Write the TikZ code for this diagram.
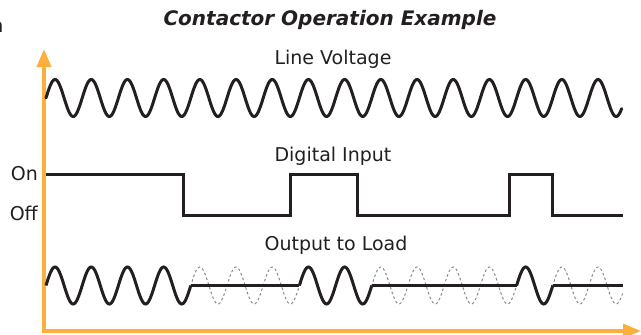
\documentclass[tikz,border=0pt]{standalone}
\usepackage{fontspec}
\setmainfont{DejaVu Sans}
\usetikzlibrary{arrows.meta}
\definecolor{axisorange}{HTML}{FBB03B}
\definecolor{ink}{HTML}{231F20}
\definecolor{ghost}{HTML}{8A8A8A}
\tikzset{
  axisline/.style={draw=axisorange, line width=3.5pt, -{Triangle[length=18pt,width=14pt]}},
  signal/.style={draw=ink, line width=3pt, line join=miter},
  ghostwave/.style={draw=ghost, line width=1pt, dash pattern=on 2.5pt off 2.5pt},
  label/.style={text=ink, font=\fontsize{19}{22}\selectfont, inner sep=0pt},
  title/.style={text=ink, font=\fontsize{20}{24}\selectfont\bfseries\itshape, inner sep=0pt},
}
\def\per{36.2}
\begin{document}
\begin{tikzpicture}[x=1pt, y=-1pt]
\useasboundingbox (0,0) rectangle (641,335);
% cut-off fragment at the top left
\node[label, anchor=east] (frag) at (3.5,27) {n};
% title and labels
\node[title] (ttl) at (330,20) {Contactor Operation Example};
\node[label] (lv) at (333,59) {Line Voltage};
\node[label] (di) at (333,156) {Digital Input};
\node[label] (ol) at (336,245) {Output to Load};
\node[label, anchor=east] (on) at (38,174) {On};
\node[label, anchor=east] (off) at (38,213) {Off};
% axes
\coordinate (origin) at (44,331);
\coordinate (ytop) at (44,49);
\coordinate (xend) at (641,331);
\draw[axisline] (origin) -- (ytop);
\draw[axisline] ([xshift=-1.75pt]origin) -- (xend);
% line voltage (parameter t counts cycles)
\draw[signal, line cap=round] plot[variable=\t, domain=0:15.91, samples=640] ({46+\per*\t}, {98 - 18.5*sin(\t*360)});
% digital input
\coordinate (d0) at (46,174);
\coordinate (d1) at (623,215);
\draw[signal] (d0) -- (183,174) -- (183,215) -- (290,215) -- (290,174) -- (357,174) -- (357,215)
  -- (509,215) -- (509,174) -- (552,174) -- (552,215) -- (d1);
% output to load: ghost (dashed) wave where off
\draw[ghostwave] plot[variable=\t, domain=3.95:7.05, samples=125] ({46+\per*\t}, {285.5 - 18.5*sin(\t*360)});
\draw[ghostwave] plot[variable=\t, domain=8.95:13.05, samples=165] ({46+\per*\t}, {285.5 - 18.5*sin(\t*360)});
\draw[ghostwave] plot[variable=\t, domain=13.95:15.93, samples=80] ({46+\per*\t}, {285.5 - 18.5*sin(\t*360)});
% output to load: solid pieces
\coordinate (f1a) at ({46+\per*4},285.5);
\coordinate (f1b) at ({46+\per*7},285.5);
\coordinate (f2a) at ({46+\per*9},285.5);
\coordinate (f2b) at ({46+\per*13},285.5);
\coordinate (f3a) at ({46+\per*14},285.5);
\coordinate (f3b) at (623,285.5);
\draw[signal] plot[variable=\t, domain=0:4, samples=161] ({46+\per*\t}, {285.5 - 18.5*sin(\t*360)});
\draw[signal] plot[variable=\t, domain=7:9, samples=81] ({46+\per*\t}, {285.5 - 18.5*sin(\t*360)});
\draw[signal] plot[variable=\t, domain=13:14, samples=41] ({46+\per*\t}, {285.5 - 18.5*sin(\t*360)});
\draw[signal] (f1a) -- (f1b);
\draw[signal] (f2a) -- (f2b);
\draw[signal] (f3a) -- (f3b);
\end{tikzpicture}
\end{document}
